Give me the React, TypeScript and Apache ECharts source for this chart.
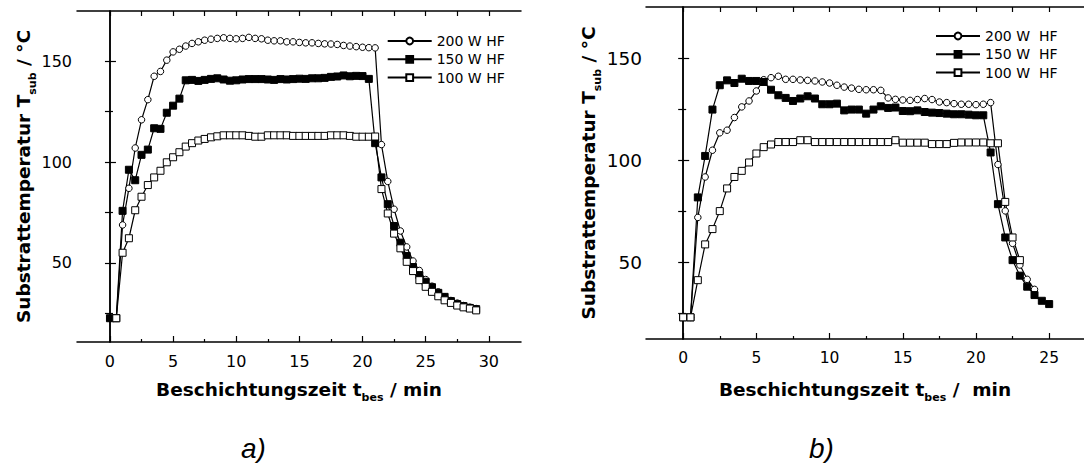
import React, { useEffect, useRef } from "react";
import * as echarts from "echarts";

// ---------- data ----------
const leftTime = [0, 0.5, 1, 1.5, 2, 2.5, 3, 3.5, 4, 4.5, 5, 5.5, 6, 6.5, 7, 7.5, 8, 8.5, 9, 9.5, 10, 10.5, 11, 11.5, 12, 12.5, 13, 13.5, 14, 14.5, 15, 15.5, 16, 16.5, 17, 17.5, 18, 18.5, 19, 19.5, 20, 20.5, 21, 21.5, 22, 22.5, 23, 23.5, 24, 24.5, 25, 25.5, 26, 26.5, 27, 27.5, 28, 28.5, 29];
const left200 = [22.5, 22.5, 68.8, 87, 107, 121, 131, 142.6, 145, 150.6, 154.7, 156, 157.6, 158.9, 159.7, 160.5, 161, 161.4, 161.7, 161.4, 161.2, 161.4, 161.9, 161.4, 161.2, 160.5, 160.2, 160.2, 159.7, 159.7, 159.4, 159.2, 159.2, 158.9, 158.7, 158.6, 158.4, 157.9, 157.6, 157.3, 157, 156.8, 156.7, 108.7, 90.4, 76.6, 65.8, 57.9, 50.9, 46.2, 41.7, 38.4, 35.6, 33.1, 31.3, 30, 28.8, 28, 27.3];
const left150 = [22.5, 22.5, 75.8, 96.2, 91, 103.6, 106.2, 116.8, 116.5, 124.5, 128, 131.5, 140.6, 140.8, 140.3, 140.8, 141.3, 141.6, 141, 140.4, 140.6, 141, 141.2, 141.2, 141.2, 141, 140.8, 141.2, 141, 141.2, 141.4, 141.3, 141.6, 141.6, 141.8, 142.3, 142.5, 143, 142.6, 142.8, 142.7, 141.3, 109.4, 92.4, 79.1, 68.3, 60, 53.4, 47.9, 43.9, 40.6, 37.9, 35.1, 33.1, 31, 29.5, 28.5, 27.6, 27];
const left100Time = [0.5, 1, 1.5, 2, 2.5, 3, 3.5, 4, 4.5, 5, 5.5, 6, 6.5, 7, 7.5, 8, 8.5, 9, 9.5, 10, 10.5, 11, 11.5, 12, 12.5, 13, 13.5, 14, 14.5, 15, 15.5, 16, 16.5, 17, 17.5, 18, 18.5, 19, 19.5, 20, 20.5, 21, 21.5, 22, 22.5, 23, 23.5, 24, 24.5, 25, 25.5, 26, 26.5, 27, 27.5, 28, 28.5, 29];
const left100 = [22.5, 55, 62.2, 76.1, 82.8, 88.6, 92.4, 95.7, 99.9, 102.4, 104.9, 107.7, 109.4, 110.7, 111.5, 112.3, 112.8, 113.3, 113.3, 113.3, 113.3, 113, 112.6, 112.6, 113.3, 113.3, 113.3, 113.3, 113, 113, 113, 113, 113, 113, 113.3, 113.3, 113.3, 113, 112.6, 112.6, 112.6, 112.7, 86.6, 74.5, 64.5, 57.2, 50.5, 45.9, 41.4, 38.1, 35.6, 33.4, 31.4, 30.1, 28.8, 27.9, 27.3, 26.4];

const rightTime = [0, 0.5, 1, 1.5, 2, 2.5, 3, 3.5, 4, 4.5, 5, 5.5, 6, 6.5, 7, 7.5, 8, 8.5, 9, 9.5, 10, 10.5, 11, 11.5, 12, 12.5, 13, 13.5, 14, 14.5, 15, 15.5, 16, 16.5, 17, 17.5, 18, 18.5, 19, 19.5, 20, 20.5, 21, 21.5, 22, 22.5, 23, 23.5, 24, 24.5, 25];
const right200 = [23.1, 23.1, 72, 91.8, 104.9, 113.4, 114.7, 120.9, 126.1, 129, 133.9, 139.4, 140.4, 141.1, 139.6, 139.6, 139.3, 139.1, 138.8, 138.3, 137.8, 136.7, 135.8, 135.3, 134.7, 134.5, 134.5, 134.2, 130.5, 129.8, 129.5, 129.3, 129.7, 130.2, 129.7, 128.5, 128.2, 127.7, 127.4, 127.4, 127.2, 127.4, 128.2, 97.9, 75.2, 59.3, 48.7, 41.7, 36.8];
const right150 = [23.1, 23.1, 81.8, 102.1, 124.8, 136.7, 139.1, 137.8, 139.9, 138.8, 138.8, 138.3, 134.5, 131.8, 130.5, 129, 130.2, 131.3, 130.2, 127.4, 127.4, 127.7, 124.4, 124.8, 124.8, 122.8, 124.8, 126.4, 125.6, 125.8, 124.1, 124, 124.4, 123.6, 123.3, 123.1, 122.8, 122.5, 122.5, 122.3, 122, 122, 103.8, 78.5, 62.2, 51.1, 43.5, 38.1, 34, 31.2, 29.6];
const right100 = [23.1, 23.1, 41.3, 58.8, 66.3, 75.1, 86.2, 91.8, 94.8, 98.9, 103.3, 106.4, 107.7, 108.9, 108.9, 108.9, 109.8, 109.8, 108.9, 108.9, 108.9, 108.9, 108.9, 108.9, 108.9, 108.9, 108.9, 108.9, 108.9, 109.8, 108.6, 108.6, 108.6, 108.6, 107.9, 107.9, 107.9, 108.5, 108.7, 108.7, 108.7, 108.7, 108.3, 108.3, 79.6, 62.2, 51.1];

const namesA = ["200 W HF", "150 W HF", "100 W HF"];
const namesB = ["200 W  HF", "150 W  HF", "100 W  HF"];

const xMajorA = [0, 5, 10, 15, 20, 25, 30];
const xMinorA = [2.5, 7.5, 12.5, 17.5, 22.5, 27.5];
const xTopA = [0, 2.5, 5, 7.5, 10, 12.5, 15, 17.5, 20, 22.5, 25, 27.5, 30];
const xMajorB = [0, 5, 10, 15, 20, 25];
const xMinorB = [2.5, 7.5, 12.5, 17.5, 22.5];
const xTopB = [0, 2.5, 5, 7.5, 10, 12.5, 15, 17.5, 20, 22.5, 25];
const yMajor = [50, 100, 150];
const yMinor = [25, 75, 125];
const yRightTicks = [25, 50, 75, 100, 125, 150];

const xTitleA = "Beschichtungszeit t{s|bes} / min";
const xTitleB = "Beschichtungszeit t{s|bes} /  min";
const yTitle = "Substrattemperatur T{s|sub} / °C";

// ---------- helpers ----------
const FONT = "DejaVu Sans";
const BLACK = "#000";

function pairs(t: number[], v: number[]) {
  return v.map((y, i) => [t[i], y]);
}

const titleStyle = {
  fontFamily: FONT,
  fontSize: 18.5,
  fontWeight: "bold" as const,
  color: BLACK,
  lineHeight: 28,
  rich: {
    s: {
      fontFamily: FONT,
      fontSize: 11,
      fontWeight: "bold" as const,
      color: BLACK,
      lineHeight: 8,
      verticalAlign: "bottom" as const,
    },
  },
};

function xAxes(grid: number, min: number, max: number, major: number[], minor: number[], top: number[], name: string, gap: number, labelSize: number) {
  const base = { type: "value", gridIndex: grid, min, max, splitLine: { show: false } };
  return [
    {
      ...base,
      position: "bottom",
      axisLine: { show: true, lineStyle: { color: BLACK, width: 1.5 } },
      axisTick: { show: true, inside: true, length: 6, customValues: major, lineStyle: { color: BLACK, width: 1.2 } },
      axisLabel: { show: true, customValues: major, margin: 11, fontFamily: FONT, fontSize: labelSize, color: BLACK },
      name,
      nameLocation: "middle",
      nameGap: gap,
      nameTextStyle: titleStyle,
    },
    {
      ...base,
      position: "bottom",
      axisLine: { show: false },
      axisTick: { show: true, inside: true, length: 3, customValues: minor, lineStyle: { color: BLACK, width: 1.2 } },
      axisLabel: { show: false },
    },
    {
      ...base,
      position: "top",
      axisLine: { show: true, lineStyle: { color: BLACK, width: 1.5 } },
      axisTick: { show: true, inside: true, length: 5, customValues: top, lineStyle: { color: BLACK, width: 1.2 } },
      axisLabel: { show: false },
    },
  ];
}

function yAxes(grid: number, min: number, max: number, gap: number, labelSize: number, labelMargin: number) {
  const base = { type: "value", gridIndex: grid, min, max, splitLine: { show: false } };
  return [
    {
      ...base,
      position: "left",
      axisLine: { show: true, lineStyle: { color: BLACK, width: 1.5 } },
      axisTick: { show: true, inside: true, length: 6, customValues: yMajor, lineStyle: { color: BLACK, width: 1.2 } },
      axisLabel: { show: true, customValues: yMajor, margin: labelMargin, fontFamily: FONT, fontSize: labelSize, color: BLACK },
      name: yTitle,
      nameLocation: "middle",
      nameGap: gap,
      nameTextStyle: titleStyle,
    },
    {
      ...base,
      position: "left",
      axisLine: { show: false },
      axisTick: { show: true, inside: true, length: 3, customValues: yMinor, lineStyle: { color: BLACK, width: 1.2 } },
      axisLabel: { show: false },
    },
    {
      ...base,
      position: "right",
      axisLine: { show: true, lineStyle: { color: BLACK, width: 1.5 } },
      axisTick: { show: true, inside: true, length: 5, customValues: yRightTicks, lineStyle: { color: BLACK, width: 1.2 } },
      axisLabel: { show: false },
    },
  ];
}

function series(name: string, kind: "circle" | "filled" | "open", data: number[][], xi: number, yi: number) {
  return {
    type: "line",
    name,
    data,
    xAxisIndex: xi,
    yAxisIndex: yi,
    symbol: kind === "circle" ? "circle" : "rect",
    symbolSize: kind === "circle" ? 6.5 : 7,
    showSymbol: true,
    showAllSymbol: true,
    clip: true,
    silent: true,
    lineStyle: { color: BLACK, width: 1.2 },
    itemStyle: { color: kind === "filled" ? BLACK : "#fff", borderColor: BLACK, borderWidth: 1 },
    emphasis: { disabled: true },
  };
}

function legend(names: string[], left: number, top: number) {
  return {
    data: names,
    orient: "vertical",
    left,
    top,
    padding: 0,
    itemWidth: 44,
    itemHeight: 8.5,
    itemGap: 2.3,
    selectedMode: false,
    textStyle: { fontFamily: FONT, fontSize: 14, color: BLACK, lineHeight: 16 },
  };
}

export default function App() {
  const ref = useRef<HTMLDivElement>(null);

  useEffect(() => {
    if (!ref.current) return;
    const chart = echarts.init(ref.current, null, { renderer: "svg" });
    const option = {
      animation: false,
      backgroundColor: "#fff",
      textStyle: { fontFamily: FONT },
      grid: [
        { left: 77, top: 11, width: 444, height: 331, containLabel: false },
        { left: 646, top: 7, width: 442, height: 332, containLabel: false },
      ],
      xAxis: [
        ...xAxes(0, -2.61, 32.55, xMajorA, xMinorA, xTopA, xTitleA, 33, 16),
        ...xAxes(1, -2.54, 27.38, xMajorB, xMinorB, xTopB, xTitleB, 36, 15.5),
      ],
      yAxis: [...yAxes(0, 10.7, 175, 39, 16, 5), ...yAxes(1, 12.5, 175, 38, 18.5, 4)],
      legend: [legend(namesA, 386.7, 33), legend(namesB, 935, 28)],
      series: [
        series(namesA[0], "circle", pairs(leftTime, left200), 0, 0),
        series(namesA[1], "filled", pairs(leftTime, left150), 0, 0),
        series(namesA[2], "open", pairs(left100Time, left100), 0, 0),
        series(namesB[0], "circle", pairs(rightTime, right200), 3, 3),
        series(namesB[1], "filled", pairs(rightTime, right150), 3, 3),
        series(namesB[2], "open", pairs(rightTime, right100), 3, 3),
      ],
      graphic: [
        {
          type: "text",
          left: 253 - 12,
          top: 449 - 15,
          style: { text: "a)", fontFamily: "Liberation Sans", fontStyle: "italic", fontSize: 28, fill: BLACK },
        },
        {
          type: "text",
          left: 821 - 12,
          top: 449 - 15,
          style: { text: "b)", fontFamily: "Liberation Sans", fontStyle: "italic", fontSize: 28, fill: BLACK },
        },
      ],
    };
    chart.setOption(option as any);
    return () => chart.dispose();
  }, []);

  return (
    <div
      ref={ref}
      style={{ position: "absolute", left: 0, top: 0, width: 1084, height: 463, background: "#fff" }}
    />
  );
}
